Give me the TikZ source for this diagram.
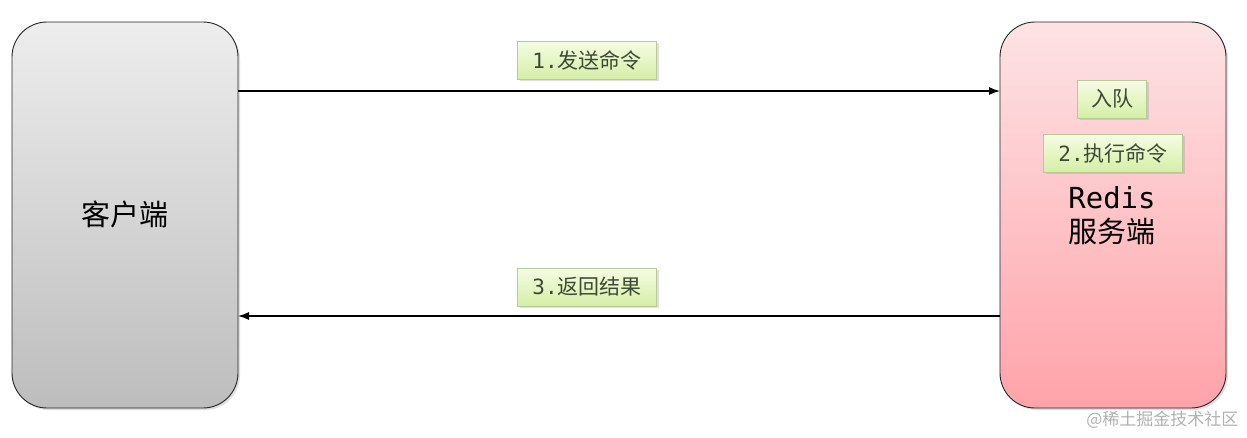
\documentclass[tikz,border=0pt]{standalone}
\usepackage{fontspec}
\setmainfont{Noto Sans CJK SC}
\newfontfamily\cjk{Noto Sans CJK SC}
\newfontfamily\mono{DejaVu Sans Mono}
\usetikzlibrary{shadows,arrows.meta}
\definecolor{cgtop}{HTML}{EDEDED}
\definecolor{cgbot}{HTML}{BDBDBD}
\definecolor{sptop}{HTML}{FDE3E5}
\definecolor{spbot}{HTML}{FFA3A9}
\definecolor{lgtop}{HTML}{F6FCE4}
\definecolor{lgbot}{HTML}{D5EFA6}
\definecolor{lgedge}{HTML}{B9C99A}
\definecolor{lgtext}{HTML}{3C4A34}
\tikzset{
  bigbox/.style={draw=black!85, line width=0.9pt, rounded corners=35pt,
    minimum width=226pt, minimum height=386pt, inner sep=0pt,
    drop shadow={shadow xshift=2pt, shadow yshift=-2pt, opacity=0.25}},
  lbl/.style={draw=lgedge, line width=0.7pt, top color=lgtop, bottom color=lgbot,
    minimum height=38pt, inner xsep=8pt, inner sep=0pt, text=lgtext,
    font=\fontsize{21}{24}\selectfont,
    drop shadow={shadow xshift=2pt, shadow yshift=-2pt, opacity=0.25}},
  conn/.style={line width=1.3pt, -{Latex[length=11pt,width=8pt]}},
}
\begin{document}
\begin{tikzpicture}[x=1pt,y=-1pt]
\useasboundingbox (0,0) rectangle (1247,437);
\node[bigbox, top color=cgtop, bottom color=cgbot] (client) at (125,215) {};
\node[font=\fontsize{29}{32}\selectfont] (clienttxt) at (125,214) {客户端};
\node[bigbox, top color=sptop, bottom color=spbot] (server) at (1113,215) {};
\node[font=\fontsize{29}{34}\selectfont, align=center] (servertxt) at (1112,216)
  {{\mono Redis}\\服务端};
\coordinate (c1) at (238,91);
\coordinate (s1) at (1000,91);
\coordinate (c2) at (238,316);
\coordinate (s2) at (1000,316);
\draw[conn] (c1) -- (s1);
\draw[conn] (s2) -- (c2);
\node[lbl, minimum width=139pt] (l1) at (587,60) {{\mono 1.}发送命令};
\node[lbl, minimum width=139pt] (l3) at (587,287) {{\mono 3.}返回结果};
\node[lbl, minimum width=69pt] (lq) at (1112,99) {入队};
\node[lbl, minimum width=139pt] (l2) at (1113,153) {{\mono 2.}执行命令};
\node[text=black!30, font=\fontsize{17}{20}\selectfont, anchor=east] (wm) at (1242,420) {@稀土掘金技术社区};
\end{tikzpicture}
\end{document}
